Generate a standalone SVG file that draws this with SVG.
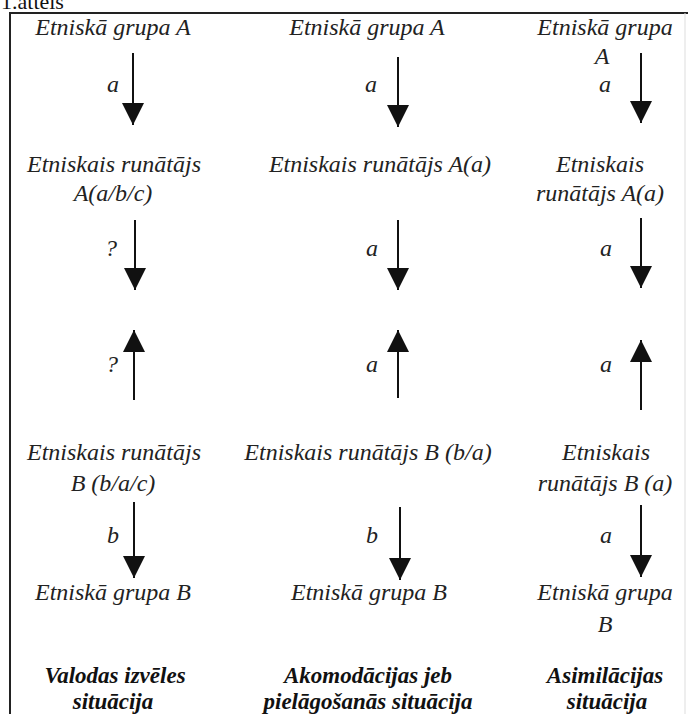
<svg xmlns="http://www.w3.org/2000/svg" width="688" height="714" viewBox="0 0 688 714">
<defs>
<style>
.arr{stroke:#111;stroke-width:2;fill:none;marker-end:url(#ah)}
.frame{stroke:#222;stroke-width:2;fill:none}
</style>
<marker id="ah" viewBox="0 0 22 22" refX="22" refY="11" markerWidth="22" markerHeight="22" markerUnits="userSpaceOnUse" orient="auto">
<path d="M0,0 L22,11 L0,22 z" fill="#111"/>
</marker>
</defs>
<rect width="688" height="714" fill="#fff"/>
<text x="1" y="9" font-family="Liberation Serif" font-size="22" fill="#111">1.attēls</text>
<g id="frame">
<path class="frame" d="M10,714 V13 H688"/>
<line x1="685" y1="13" x2="685" y2="714" stroke="#ddd" stroke-width="1"/>
</g>
<g id="connectors">
<line class="arr" x1="133" y1="53" x2="133" y2="125"/>
<line class="arr" x1="135" y1="220" x2="135" y2="290"/>
<line class="arr" x1="134" y1="400" x2="134" y2="330"/>
<line class="arr" x1="134" y1="502" x2="134" y2="578"/>
<line class="arr" x1="398" y1="57" x2="398" y2="127"/>
<line class="arr" x1="398" y1="220" x2="398" y2="290"/>
<line class="arr" x1="398" y1="398" x2="398" y2="330"/>
<line class="arr" x1="400" y1="507" x2="400" y2="580"/>
<line class="arr" x1="641" y1="53" x2="641" y2="123"/>
<line class="arr" x1="641" y1="218" x2="641" y2="288"/>
<line class="arr" x1="641" y1="410" x2="641" y2="340"/>
<line class="arr" x1="641" y1="505" x2="641" y2="577"/>
</g>
<g font-family="Liberation Serif" font-style="italic" font-size="24" fill="#222" text-anchor="middle">
<g id="labels">
<text x="113" y="92">a</text>
<text x="111" y="256">?</text>
<text x="112" y="372">?</text>
<text x="113" y="543">b</text>
<text x="371" y="92">a</text>
<text x="372" y="256">a</text>
<text x="372" y="372">a</text>
<text x="372" y="543">b</text>
<text x="605" y="92">a</text>
<text x="606" y="256">a</text>
<text x="606" y="372">a</text>
<text x="606" y="543">a</text>
</g>
<g id="col1-groupA"><text x="113" y="35">Etniskā grupa A</text></g>
<g id="col1-speakerA"><text x="114" y="172">Etniskais runātājs</text><text x="113" y="201">A(a/b/c)</text></g>
<g id="col1-speakerB"><text x="114" y="460">Etniskais runātājs</text><text x="113" y="491">B (b/a/c)</text></g>
<g id="col1-groupB"><text x="113" y="600">Etniskā grupa B</text></g>
<g id="col2-groupA"><text x="367" y="35">Etniskā grupa A</text></g>
<g id="col2-speakerA"><text x="380" y="172">Etniskais runātājs A(a)</text></g>
<g id="col2-speakerB"><text x="368" y="460">Etniskais runātājs B (b/a)</text></g>
<g id="col2-groupB"><text x="369" y="600">Etniskā grupa B</text></g>
<g id="col3-groupA"><text x="605" y="35">Etniskā grupa</text><text x="602" y="64">A</text></g>
<g id="col3-speakerA"><text x="600" y="172">Etniskais</text><text x="600" y="201">runātājs A(a)</text></g>
<g id="col3-speakerB"><text x="606" y="460">Etniskais</text><text x="605" y="491">runātājs B (a)</text></g>
<g id="col3-groupB"><text x="605" y="600">Etniskā grupa</text><text x="605" y="632">B</text></g>
<g font-weight="bold" font-size="23" fill="#111">
<g id="col1-title"><text x="115" y="683">Valodas izvēles</text><text x="113" y="709">situācija</text></g>
<g id="col2-title"><text x="368" y="683">Akomodācijas jeb</text><text x="368" y="709">pielāgošanās situācija</text></g>
<g id="col3-title"><text x="605" y="683">Asimilācijas</text><text x="607" y="709">situācija</text></g>
</g>
</g>
</svg>
